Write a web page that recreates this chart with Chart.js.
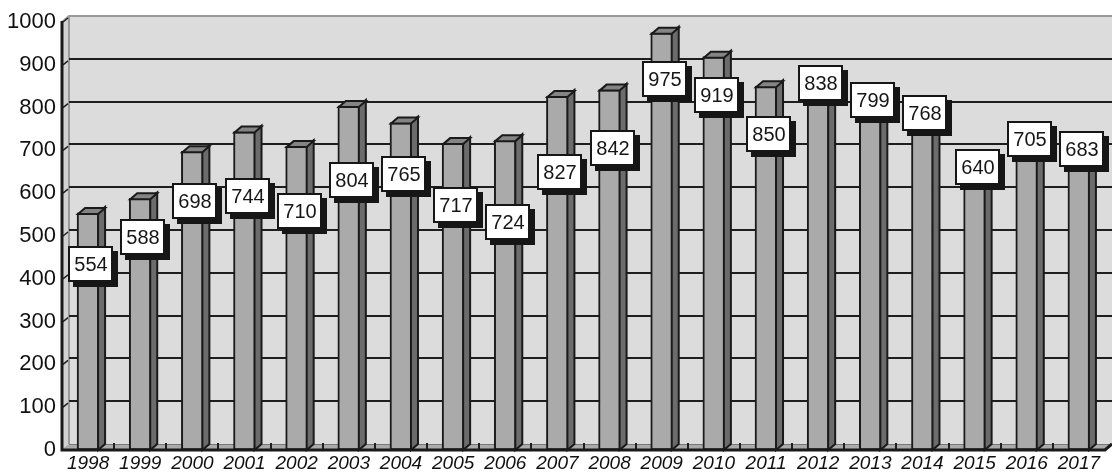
<!DOCTYPE html>
<html>
<head>
<meta charset="utf-8">
<script src="https://cdn.jsdelivr.net/npm/chart.js@4.4.1/dist/chart.umd.min.js"></script>
<style>
  html, body { margin: 0; padding: 0; background: #fff; }
  #wrap { width: 1112px; height: 473px; position: relative; }
</style>
</head>
<body>
<div id="wrap"><canvas id="chart"></canvas></div>
<script>
const years = ["1998", "1999", "2000", "2001", "2002", "2003", "2004", "2005", "2006", "2007",
  "2008", "2009", "2010", "2011", "2012", "2013", "2014", "2015", "2016", "2017"];
const counts = [554, 588, 698, 744, 710, 804, 765, 717, 724, 827,
  842, 975, 919, 850, 838, 799, 768, 640, 705, 683];
// where each value box sits, in axis units
const labelAt = [435, 498, 582, 593, 558, 631, 645, 572, 533, 650,
  706, 867, 829, 738, 857, 818, 787, 661, 727, 703];
const yMin = 0;
const yMax = 1000;
const yStep = 100;

const DX = 7;   // depth offset to the back wall
const DY = -6;
const FONT = "'Liberation Sans', Arial, sans-serif";

// back wall, left wall, floor and gridlines
const wallsPlugin = {
  id: "walls",
  beforeDatasetsDraw(chart) {
    const { ctx, chartArea: a, scales: { y } } = chart;
    const wallR = a.right + DX;
    ctx.save();

    // back wall
    ctx.fillStyle = "#dcdcdc";
    ctx.fillRect(a.left + DX, a.top + DY, wallR - a.left - DX, a.bottom - a.top);

    // left wall
    ctx.fillStyle = "#d2d2d2";
    ctx.beginPath();
    ctx.moveTo(a.left, a.top);
    ctx.lineTo(a.left + DX, a.top + DY);
    ctx.lineTo(a.left + DX, a.bottom + DY);
    ctx.lineTo(a.left, a.bottom);
    ctx.closePath();
    ctx.fill();

    // wall edges
    ctx.strokeStyle = "#9a9a9a";
    ctx.lineWidth = 2;
    ctx.beginPath();
    ctx.moveTo(a.left, a.top);
    ctx.lineTo(a.left + DX, a.top + DY);
    ctx.lineTo(wallR, a.top + DY);
    ctx.moveTo(a.left + DX, a.top + DY);
    ctx.lineTo(a.left + DX, a.bottom + DY);
    ctx.stroke();

    // gridlines on the back wall, with the small slanted ticks on the left wall
    ctx.strokeStyle = "#1e1e1e";
    ctx.lineWidth = 2;
    for (let v = yMin + yStep; v < yMax; v += yStep) {
      const py = Math.round(y.getPixelForValue(v) + DY);
      ctx.beginPath();
      ctx.moveTo(a.left + DX, py);
      ctx.lineTo(wallR, py);
      ctx.stroke();
    }
    ctx.lineWidth = 1.5;
    for (let v = yMin; v <= yMax; v += yStep) {
      const py = y.getPixelForValue(v);
      ctx.beginPath();
      ctx.moveTo(a.left + 1, py);
      ctx.lineTo(a.left + DX - 1, py + DY + 2);
      ctx.stroke();
    }

    // floor
    ctx.fillStyle = "#ababab";
    ctx.beginPath();
    ctx.moveTo(a.left, a.bottom);
    ctx.lineTo(a.left + DX, a.bottom + DY);
    ctx.lineTo(wallR, a.bottom + DY);
    ctx.lineTo(a.right, a.bottom);
    ctx.closePath();
    ctx.fill();
    ctx.strokeStyle = "#777";
    ctx.lineWidth = 1;
    ctx.beginPath();
    ctx.moveTo(a.left + DX, a.bottom + DY + 0.5);
    ctx.lineTo(wallR, a.bottom + DY + 0.5);
    ctx.stroke();

    // category ticks on the floor
    ctx.strokeStyle = "#1e1e1e";
    ctx.lineWidth = 2;
    const step = (a.right - a.left) / years.length;
    for (let i = 1; i < years.length; i++) {
      const px = Math.round(a.left + step * i);
      ctx.beginPath();
      ctx.moveTo(px, a.bottom);
      ctx.lineTo(px, a.bottom - 7);
      ctx.stroke();
    }
    ctx.restore();
  },

  afterDatasetsDraw(chart) {
    const { ctx, chartArea: a, scales: { y } } = chart;
    const meta = chart.getDatasetMeta(0);
    ctx.save();
    ctx.lineJoin = "miter";
    ctx.strokeStyle = "#1a1a1a";
    ctx.lineWidth = 2;

    // side and top faces of each bar
    meta.data.forEach((bar) => {
      const l = bar.x - bar.width / 2;
      const r = bar.x + bar.width / 2;
      const t = bar.y;
      const b = bar.base;
      ctx.fillStyle = "#6c6c6c";
      ctx.beginPath();
      ctx.moveTo(r - 1, t);
      ctx.lineTo(r - 1 + DX, t + DY);
      ctx.lineTo(r - 1 + DX, b + DY);
      ctx.lineTo(r - 1, b);
      ctx.closePath();
      ctx.fill();
      ctx.stroke();
      ctx.fillStyle = "#848484";
      ctx.beginPath();
      ctx.moveTo(l + 1, t + 1);
      ctx.lineTo(l + 1 + DX, t + 1 + DY);
      ctx.lineTo(r - 1 + DX, t + 1 + DY);
      ctx.lineTo(r - 1, t + 1);
      ctx.closePath();
      ctx.fill();
      ctx.stroke();
    });

    // axes
    ctx.lineWidth = 3;
    ctx.beginPath();
    ctx.moveTo(a.left, a.top - 1);
    ctx.lineTo(a.left, a.bottom);
    ctx.lineTo(a.right, a.bottom);
    ctx.lineTo(a.right + DX, a.bottom + DY);
    ctx.stroke();

    // value boxes
    ctx.font = `20px ${FONT}`;
    ctx.textAlign = "center";
    ctx.textBaseline = "middle";
    const w = 45, h = 36;
    meta.data.forEach((bar, i) => {
      const cx = Math.round(bar.x + 3);
      const cy = Math.round(y.getPixelForValue(labelAt[i]));
      const bx = cx - Math.round(w / 2), by = cy - h / 2;
      ctx.fillStyle = "#161616";
      ctx.fillRect(bx + 5, by + 5, w, h);
      ctx.fillStyle = "#fff";
      ctx.fillRect(bx, by, w, h);
      ctx.lineWidth = 2;
      ctx.strokeStyle = "#161616";
      ctx.strokeRect(bx + 1, by + 1, w - 2, h - 2);
      ctx.fillStyle = "#161616";
      ctx.fillText(String(counts[i]), cx, cy + 1);
    });
    ctx.restore();
  },
};

new Chart(document.getElementById("chart"), {
  type: "bar",
  data: {
    labels: years,
    datasets: [{
      data: counts,
      backgroundColor: "#aaaaaa",
      borderColor: "#1a1a1a",
      borderWidth: 2,
      borderSkipped: false,
      barThickness: 22,
    }],
  },
  options: {
    responsive: true,
    maintainAspectRatio: false,
    animation: false,
    devicePixelRatio: 1,
    layout: { padding: { top: 22, right: 7, left: 0, bottom: 0 } },
    plugins: { legend: { display: false }, tooltip: { enabled: false } },
    scales: {
      x: {
        offset: true,
        grid: { display: false, drawTicks: false },
        border: { display: false },
        ticks: {
          autoSkip: false,
          maxRotation: 0,
          padding: 2,
          color: "#111",
          font: { family: FONT, size: 19, style: "italic" },
        },
        afterFit(scale) { scale.height = 23; },
      },
      y: {
        min: yMin,
        max: yMax,
        grid: { display: false, drawTicks: false },
        border: { display: false },
        ticks: {
          stepSize: yStep,
          padding: 6,
          color: "#111",
          font: { family: FONT, size: 22 },
          callback: (v) => String(v),
        },
        afterFit(scale) { scale.width = 62; },
      },
    },
  },
  plugins: [wallsPlugin],
});
</script>
</body>
</html>
